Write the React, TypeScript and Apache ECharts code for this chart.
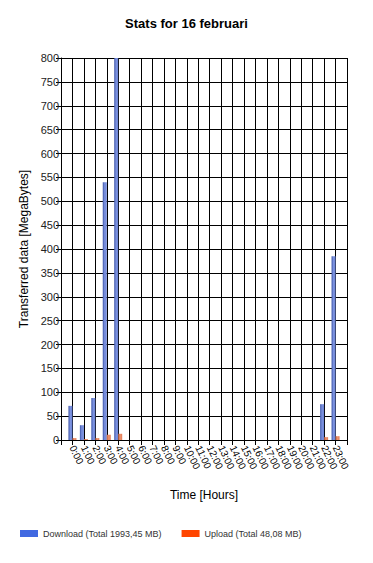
import React, { useEffect, useRef } from "react";
import * as echarts from "echarts";

const hours = [
  "0:00", "1:00", "2:00", "3:00", "4:00", "5:00", "6:00", "7:00", "8:00", "9:00", "10:00", "11:00",
  "12:00", "13:00", "14:00", "15:00", "16:00", "17:00", "18:00", "19:00", "20:00", "21:00", "22:00", "23:00",
];
const download = [71.5, 31, 88, 540, 800, 0, 0, 0, 0, 0, 0, 0, 0, 0, 0, 0, 0, 0, 0, 0, 0, 0, 75, 385];
const upload = [4, 2, 4, 11, 13, 0, 0, 0, 0, 0, 0, 0, 0, 0, 0, 0, 0, 0, 0, 0, 0, 0, 6, 8];
const downloadName = "Download (Total 1993,45 MB)";
const uploadName = "Upload (Total 48,08 MB)";

const FONT = "Liberation Sans, Arial, sans-serif";

export default function App() {
  const ref = useRef<HTMLDivElement>(null);
  useEffect(() => {
    if (!ref.current) return;
    const chart = echarts.init(ref.current, null, { renderer: "svg" });
    const cats = ["", ...hours, ""];
    const pad = (arr: number[]) => [null, ...arr.map((v) => (v === 0 ? null : v)), null];
    chart.setOption({
      animation: false,
      backgroundColor: "#ffffff",
      textStyle: { fontFamily: FONT },
      title: {
        text: "Stats for 16 februari",
        left: "center",
        top: 17,
        padding: 0,
        textStyle: { fontSize: 13, fontWeight: "bold", color: "#000", fontFamily: FONT },
      },
      legend: {
        left: 20,
        top: 529,
        padding: 0,
        itemWidth: 18,
        itemHeight: 7,
        itemGap: 20,
        textStyle: { fontSize: 9, color: "#333", fontFamily: FONT },
        data: [
          { name: downloadName, icon: "rect", itemStyle: { color: "#4169e1" } },
          { name: uploadName, icon: "rect", itemStyle: { color: "#ff4500" } },
        ],
      },
      grid: { left: 61, right: 26, top: 58, bottom: 123, containLabel: false },
      xAxis: {
        type: "category",
        data: cats,
        boundaryGap: false,
        name: "Time [Hours]",
        nameLocation: "middle",
        nameGap: 49,
        nameTextStyle: { fontSize: 12, color: "#000", fontFamily: FONT },
        axisLine: { lineStyle: { color: "#000", width: 1 } },
        axisTick: { show: true, interval: 0, length: 5, lineStyle: { color: "#000" } },
        splitLine: { show: true, interval: 0, lineStyle: { color: "#000", width: 1 } },
        axisLabel: {
          interval: 0,
          rotate: -65,
          fontSize: 10,
          color: "#000",
          margin: 6,
          fontFamily: FONT,
        },
      },
      yAxis: {
        type: "value",
        min: 0,
        max: 800,
        interval: 50,
        name: "Transferred data [MegaBytes]",
        nameLocation: "middle",
        nameGap: 31,
        nameTextStyle: { fontSize: 12, color: "#000", fontFamily: FONT },
        axisLine: { show: true, lineStyle: { color: "#000", width: 1 } },
        axisTick: { show: true, length: 5, lineStyle: { color: "#000" } },
        splitLine: { show: true, lineStyle: { color: "#000", width: 1 } },
        axisLabel: { fontSize: 11, color: "#222", margin: 2, fontFamily: FONT },
      },
      series: [
        {
          name: downloadName,
          type: "bar",
          data: pad(download),
          barWidth: 4,
          barGap: "0%",
          itemStyle: {
            color: new echarts.graphic.LinearGradient(0, 0, 1, 0, [
              { offset: 0, color: "#3e55a8" },
              { offset: 0.5, color: "#7d93e0" },
              { offset: 1, color: "#6a82d4" },
            ]),
          },
        },
        {
          name: uploadName,
          type: "bar",
          data: pad(upload),
          barWidth: 4,
          barGap: "0%",
          itemStyle: {
            color: new echarts.graphic.LinearGradient(0, 0, 1, 0, [
              { offset: 0, color: "#c0603c" },
              { offset: 0.5, color: "#ee9470" },
              { offset: 1, color: "#e07a55" },
            ]),
          },
        },
      ],
    });
    return () => chart.dispose();
  }, []);
  return <div ref={ref} style={{ width: 373, height: 563, position: "absolute", left: 0, top: 0 }} />;
}
